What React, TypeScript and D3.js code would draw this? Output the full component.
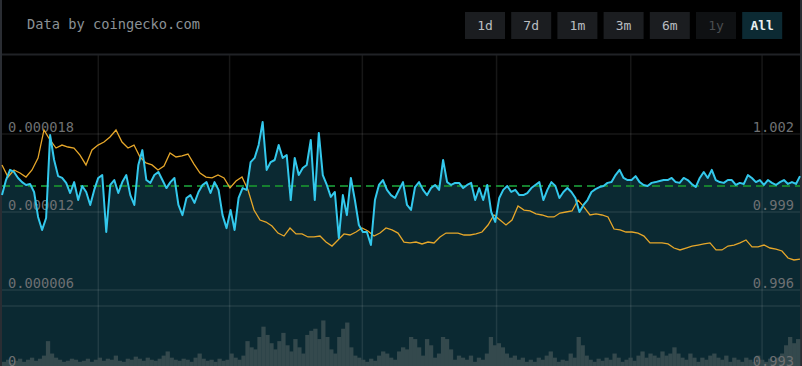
import { useEffect, useRef } from 'react';
import * as d3 from 'd3';

// time span of the "All" view
const startDate = new Date(2020, 9, 27);
const endDate = new Date(2022, 3, 27);
const gridDates = [
  new Date(2021, 0, 1),
  new Date(2021, 3, 1),
  new Date(2021, 6, 1),
  new Date(2021, 9, 1),
  new Date(2022, 0, 1),
  new Date(2022, 3, 1),
];

// price in USD (right axis)
const usdPrice = [
  0.99965, 1.00023, 1.00062, 1.00054, 1.00031, 1.00015, 1.00004, 1.00008, 0.99977, 0.99881,
  0.99831, 0.99877, 1.00196, 1.001, 1.00038, 1.00031, 1.00012, 0.99973, 1.00015, 0.99946,
  1.0, 0.99977, 0.99927, 0.99985, 1.00031, 1.00042, 0.99823, 1.00004, 1.00023, 0.99973,
  1.00015, 1.00042, 0.99965, 0.99927, 1.00081, 1.00138, 1.00023, 1.00012, 1.00042, 1.00054,
  1.00023, 0.99992, 1.00015, 1.00031, 0.99927, 0.99888, 0.99954, 0.99965, 0.99935, 0.99977,
  1.00004, 1.00015, 0.99973, 1.00015, 0.99985, 0.99888, 0.99838, 0.99908, 0.99831, 0.99954,
  0.99992, 0.99985, 1.00092, 1.00108, 1.00158, 1.00246, 1.00062, 1.00092, 1.001, 1.00158,
  1.00108, 1.00119, 0.99946, 1.00108, 1.00042, 1.00069, 1.00081, 1.00177, 0.99946, 1.00204,
  1.00042, 1.00004, 0.99958, 0.99977, 0.998, 0.99965, 0.99888, 1.00031, 0.99946, 0.9985,
  0.99823, 0.99823, 0.99773, 0.99946, 1.00004, 1.00023, 0.99985, 0.99965, 0.99954, 0.99985,
  1.00015, 0.99927, 0.99908, 0.99996, 1.00015, 0.99985, 0.99965, 0.99992, 1.00004, 0.99985,
  1.001, 1.00015, 1.00004, 1.00012, 1.00012, 0.99992, 1.00004, 1.00012, 0.99946, 0.99992,
  0.99946, 1.00004, 0.999, 0.99862, 0.99954, 0.99985, 1.0, 0.99977, 0.99985, 0.99965,
  0.99965, 0.99973, 0.99992, 1.00004, 1.00015, 0.99946, 0.99985, 1.00015, 1.0, 0.99954,
  0.99977, 0.99992, 0.99977, 0.99954, 0.999, 0.99927, 0.99946, 0.99977, 0.99988, 0.99996,
  1.0, 1.00012, 1.00015, 1.00042, 1.00062, 1.00031, 1.00023, 1.00023, 1.00038, 1.00015,
  1.00004, 1.0, 1.00012, 1.00015, 1.00019, 1.00023, 1.00023, 1.00031, 1.00015, 1.00012,
  1.00031, 1.00023, 1.00008, 0.99996, 1.00031, 1.00054, 1.00031, 1.00062, 1.00023, 1.00015,
  1.00012, 1.00023, 1.00023, 1.00004, 1.00012, 1.00008, 1.00042, 1.00031, 1.00015, 1.00023,
  1.00004, 1.00023, 1.00012, 1.00004, 1.00015, 1.00023, 1.00008, 1.00015, 1.00008, 1.00038,
];

// price in BTC (left axis)
const btcPrice = [
  15.62e-6, 14.69e-6, 15.23e-6, 15.0e-6, 14.69e-6, 15.23e-6, 16.15e-6, 18.31e-6, 17.54e-6, 16.92e-6,
  17.15e-6, 17.0e-6, 16.92e-6, 16.38e-6, 15.62e-6, 16.77e-6, 17.15e-6, 17.38e-6, 17.77e-6, 18.31e-6,
  17.38e-6, 16.92e-6, 17.15e-6, 16.23e-6, 15.77e-6, 15.62e-6, 15.23e-6, 15.54e-6, 16.54e-6, 16.23e-6,
  16.31e-6, 16.46e-6, 15.69e-6, 15.0e-6, 14.69e-6, 14.62e-6, 14.85e-6, 14.62e-6, 13.85e-6, 14.38e-6,
  14.69e-6, 13.69e-6, 12.15e-6, 11.38e-6, 11.23e-6, 10.92e-6, 10.38e-6, 10.15e-6, 10.77e-6, 10.31e-6,
  10.31e-6, 10.08e-6, 10.08e-6, 10.15e-6, 9.69e-6, 9.38e-6, 9.85e-6, 10.31e-6, 10.23e-6, 10.46e-6,
  10.77e-6, 10.54e-6, 10.15e-6, 10.38e-6, 10.77e-6, 10.62e-6, 10.38e-6, 9.69e-6, 9.62e-6, 9.69e-6,
  9.54e-6, 9.69e-6, 9.62e-6, 10.08e-6, 10.38e-6, 10.38e-6, 10.38e-6, 10.23e-6, 10.23e-6, 10.31e-6,
  10.46e-6, 11.0e-6, 11.77e-6, 11.38e-6, 11.0e-6, 11.38e-6, 12.46e-6, 12.15e-6, 12.08e-6, 11.85e-6,
  11.77e-6, 11.62e-6, 11.62e-6, 11.92e-6, 12.0e-6, 12.08e-6, 12.92e-6, 12.38e-6, 11.77e-6, 11.85e-6,
  11.77e-6, 11.62e-6, 10.69e-6, 10.62e-6, 10.46e-6, 10.46e-6, 10.38e-6, 10.15e-6, 9.62e-6, 9.62e-6,
  9.62e-6, 9.54e-6, 9.23e-6, 9.08e-6, 9.23e-6, 9.38e-6, 9.46e-6, 9.54e-6, 9.62e-6, 9.08e-6,
  9.08e-6, 9.38e-6, 9.46e-6, 9.62e-6, 9.85e-6, 9.31e-6, 9.31e-6, 9.46e-6, 9.23e-6, 9.15e-6,
  9.0e-6, 8.46e-6, 8.31e-6, 8.38e-6,
];

// 24h volume (M USD)
const volume = [
  6, 8, 5, 7, 9, 6, 8, 10, 7, 9, 12, 26, 14, 10, 8, 6, 7, 9, 8, 6,
  7, 9, 6, 8, 10, 7, 9, 8, 12, 7, 6, 9, 8, 11, 9, 7, 10, 8, 7, 9,
  12, 16, 10, 8, 7, 9, 8, 6, 10, 14, 9, 7, 8, 6, 9, 7, 8, 14, 10, 8,
  12, 26, 20, 18, 30, 40, 32, 24, 18, 26, 34, 22, 16, 28, 20, 14, 32, 36, 38, 28,
  46, 30, 18, 14, 30, 38, 44, 20, 12, 10, 8, 6, 9, 7, 12, 16, 14, 10, 8, 16,
  20, 18, 30, 28, 20, 12, 28, 22, 10, 14, 30, 28, 18, 8, 12, 10, 8, 12, 6, 10,
  8, 14, 30, 22, 24, 20, 14, 10, 12, 8, 10, 6, 8, 6, 10, 8, 12, 16, 10, 6,
  8, 7, 14, 10, 30, 22, 12, 8, 6, 9, 7, 10, 8, 14, 10, 6, 8, 10, 7, 12,
  16, 10, 14, 12, 10, 16, 12, 14, 20, 14, 10, 8, 14, 10, 6, 10, 8, 12, 14, 10,
  8, 12, 6, 10, 8, 6, 10, 8, 6, 12, 8, 6, 9, 7, 10, 14, 22, 30, 24, 28,
];

const usdTicks = [0.993, 0.996, 0.999, 1.002];
const btcTicks = [0, 0.000006, 0.000012, 0.000018];
const btcTickLabels = ['0', '0.000006', '0.000012', '0.000018'];
const volumeTicks = [60];
const pegPrice = 1;
const ranges = ['1d', '7d', '1m', '3m', '6m', '1y', 'All'];
const activeRange = 'All';
const disabledRange = '1y';

const WIDTH = 802;
const HEIGHT = 366;
const MONO = '"DejaVu Sans Mono", monospace';

function PriceChart() {
  const svgRef = useRef<SVGSVGElement>(null);

  useEffect(() => {
    if (!svgRef.current) return;
    const svg = d3.select(svgRef.current);
    svg.selectAll('*').remove();

    const plotLeft = 2;
    const plotRight = 800;
    const plotTop = 55;
    const bottom = 368;

    svg.append('rect').attr('width', WIDTH).attr('height', HEIGHT).attr('fill', '#000');

    const x = d3.scaleTime().domain([startDate, endDate]).range([plotLeft, plotRight]);
    const yUsd = d3.scaleLinear().domain([0.993, 1.002]).range([bottom, 134]);
    const yBtc = d3.scaleLinear().domain([0, 0.000018]).range([bottom, 134]);
    const yVol = d3.scaleLinear().domain([0, 60]).range([bottom, 306]);

    const span = +endDate - +startDate;
    const timeAt = (i: number, n: number) => new Date(+startDate + (i / (n - 1)) * span);

    // area under USD price
    const area = d3
      .area<number>()
      .x((d, i) => x(timeAt(i, usdPrice.length)))
      .y0(bottom)
      .y1(d => yUsd(d));
    svg.append('path').datum(usdPrice).attr('d', area).attr('fill', '#0b2932');

    // grid
    const grid = svg.append('g').attr('stroke', 'rgba(255,255,255,0.09)').attr('stroke-width', 1.5);
    grid.selectAll('.hgrid')
      .data(btcTicks)
      .enter()
      .append('line')
      .attr('x1', plotLeft)
      .attr('x2', plotRight)
      .attr('y1', d => yBtc(d))
      .attr('y2', d => yBtc(d));
    grid.selectAll('.vgrid-vol')
      .data(volumeTicks)
      .enter()
      .append('line')
      .attr('x1', plotLeft)
      .attr('x2', plotRight)
      .attr('y1', d => yVol(d))
      .attr('y2', d => yVol(d));
    grid.selectAll('.vgrid')
      .data(gridDates)
      .enter()
      .append('line')
      .attr('x1', d => x(d))
      .attr('x2', d => x(d))
      .attr('y1', plotTop)
      .attr('y2', HEIGHT);

    // frame
    svg.append('line').attr('x1', plotLeft).attr('x2', plotRight).attr('y1', 54.5).attr('y2', 54.5)
      .attr('stroke', '#202226').attr('stroke-width', 2);
    svg.append('line').attr('x1', 1).attr('x2', 1).attr('y1', 0).attr('y2', HEIGHT)
      .attr('stroke', '#2a2d33').attr('stroke-width', 2);
    svg.append('line').attr('x1', 801).attr('x2', 801).attr('y1', 0).attr('y2', HEIGHT)
      .attr('stroke', '#2a2d33').attr('stroke-width', 2);

    // volume bars
    const band = d3.scaleBand<number>().domain(volume.map((_, i) => i)).range([plotLeft, plotRight]).padding(0);
    svg.append('g')
      .selectAll('rect')
      .data(volume)
      .enter()
      .append('rect')
      .attr('x', (d, i) => band(i) || 0)
      .attr('width', band.bandwidth() + 0.3)
      .attr('y', d => yVol(d))
      .attr('height', d => bottom - yVol(d))
      .attr('fill', '#34494d');

    // axis labels
    svg.append('g')
      .selectAll('text')
      .data(btcTicks)
      .enter()
      .append('text')
      .attr('x', 8)
      .attr('y', d => yBtc(d) - 2)
      .attr('fill', '#6e7072')
      .style('font-family', MONO)
      .style('font-size', '13.7px')
      .text((d, i) => btcTickLabels[i]);

    svg.append('g')
      .selectAll('text')
      .data(usdTicks)
      .enter()
      .append('text')
      .attr('x', 794)
      .attr('y', d => yUsd(d) - 2)
      .attr('text-anchor', 'end')
      .attr('fill', '#6e7072')
      .style('font-family', MONO)
      .style('font-size', '13.7px')
      .text(d => d3.format('.3f')(d));

    // peg line
    svg.append('line')
      .attr('x1', plotLeft)
      .attr('x2', plotRight)
      .attr('y1', yUsd(pegPrice))
      .attr('y2', yUsd(pegPrice))
      .attr('stroke', '#16802f')
      .attr('stroke-width', 2)
      .attr('stroke-dasharray', '8,5');

    // BTC price line
    const btcLine = d3
      .line<number>()
      .x((d, i) => x(timeAt(i, btcPrice.length)))
      .y(d => yBtc(d));
    svg.append('path').datum(btcPrice).attr('d', btcLine)
      .attr('fill', 'none').attr('stroke', '#e6a72a').attr('stroke-width', 1.3);

    // USD price line
    const usdLine = d3
      .line<number>()
      .x((d, i) => x(timeAt(i, usdPrice.length)))
      .y(d => yUsd(d));
    svg.append('path').datum(usdPrice).attr('d', usdLine)
      .attr('fill', 'none').attr('stroke', '#33c8ec').attr('stroke-width', 2).attr('stroke-linejoin', 'round');

    // header
    svg.append('text')
      .attr('x', 27)
      .attr('y', 29)
      .attr('fill', '#8b9196')
      .style('font-family', MONO)
      .style('font-size', '13.7px')
      .text('Data by coingecko.com');

    const btn = svg.append('g')
      .selectAll('g')
      .data(ranges)
      .enter()
      .append('g')
      .attr('transform', (d, i) => `translate(${465 + i * 46.2},12)`);
    btn.append('rect')
      .attr('width', 40)
      .attr('height', 27)
      .attr('fill', d => (d === activeRange ? '#0c2a33' : d === disabledRange ? '#0f1113' : '#1b1d20'));
    btn.append('text')
      .attr('x', 20)
      .attr('y', 18)
      .attr('text-anchor', 'middle')
      .attr('fill', d => (d === activeRange ? '#e8eef0' : d === disabledRange ? '#4a4d50' : '#b9bdc0'))
      .style('font-family', MONO)
      .style('font-size', '13px')
      .style('font-weight', d => (d === activeRange ? 'bold' : 'normal'))
      .text(d => d);
  }, []);

  return <svg ref={svgRef} width={WIDTH} height={HEIGHT} style={{ display: 'block', overflow: 'hidden' }} />;
}

export default function App() {
  return (
    <div style={{ position: 'absolute', left: 0, top: 0, width: WIDTH, height: HEIGHT, background: '#000' }}>
      <PriceChart />
    </div>
  );
}
